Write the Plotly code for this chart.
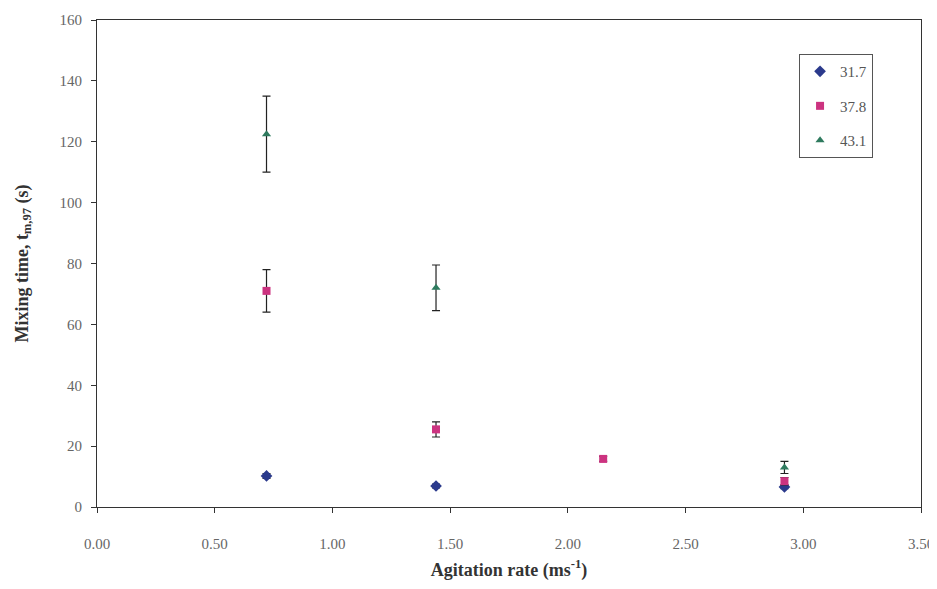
import plotly.graph_objects as go

series_names = ["31.7", "37.8", "43.1"]
x_317 = [0.72, 1.44, 2.92]
y_317 = [10.2, 6.9, 6.6]
e_317 = [0.8, 0.6, 0.6]

x_378 = [0.72, 1.44, 2.15, 2.92]
y_378 = [71.0, 25.5, 15.8, 8.5]
e_378 = [7.0, 2.5, 0.8, 1.2]

x_431 = [0.72, 1.44, 2.92]
y_431 = [122.5, 72.0, 13.0]
e_431 = [12.5, 7.5, 2.0]

colors = ["#2B3A8C", "#CC3380", "#2E7A5E"]
symbols = ["diamond", "square", "triangle-up"]

fig = go.Figure()
for i, (name, xs, ys, es, c, s, sz) in enumerate([
    (series_names[0], x_317, y_317, e_317, colors[0], symbols[0], 9),
    (series_names[1], x_378, y_378, e_378, colors[1], symbols[1], 8),
    (series_names[2], x_431, y_431, e_431, colors[2], symbols[2], 8),
]):
    fig.add_trace(go.Scatter(
        x=xs, y=ys, name=name, mode="markers", legendgroup=f"g{i}",
        marker=dict(color=c, symbol=s, size=sz),
        error_y=dict(type="data", array=es, visible=True, color="#222222", thickness=1.2, width=4),
    ))

serif = "Liberation Serif, Times New Roman, serif"
fig.update_layout(
    width=929, height=573,
    margin=dict(l=89, r=16, t=12, b=74),
    paper_bgcolor="white", plot_bgcolor="white",
    font=dict(family=serif, color="#666666", size=15),
    showlegend=True,
    legend=dict(x=0.852, y=0.93, xanchor="left", yanchor="top",
                bordercolor="#555555", borderwidth=1, bgcolor="white",
                traceorder="grouped", tracegroupgap=12,
                font=dict(size=15, color="#555555"), itemwidth=30),
    xaxis=dict(range=[0, 3.5], tickvals=[0, 0.5, 1, 1.5, 2, 2.5, 3, 3.5],
               ticktext=["0.00", "0.50", "1.00", "1.50", "2.00", "2.50", "3.00", "3.50"],
               automargin=False, ticklabelstandoff=18,
               showgrid=False, zeroline=False, showline=True, linecolor="#333333", linewidth=1.2,
               mirror=True, ticks="outside", ticklen=5, tickcolor="#333333",
               title=dict(text="<b>Agitation rate (ms<sup>-1</sup>)</b>", font=dict(size=18, color="#333333"), standoff=26)),
    yaxis=dict(range=[0, 160], tickvals=[0, 20, 40, 60, 80, 100, 120, 140, 160],
               automargin=False, ticklabelstandoff=6,
               showgrid=False, zeroline=False, showline=True, linecolor="#333333", linewidth=1.2,
               mirror=True, ticks="outside", ticklen=5, tickcolor="#333333",
               title=dict(text="<b>Mixing time, t<sub>m,97</sub> (s)</b>", font=dict(size=18, color="#333333"), standoff=26)),
)
fig.write_html("out.html")
